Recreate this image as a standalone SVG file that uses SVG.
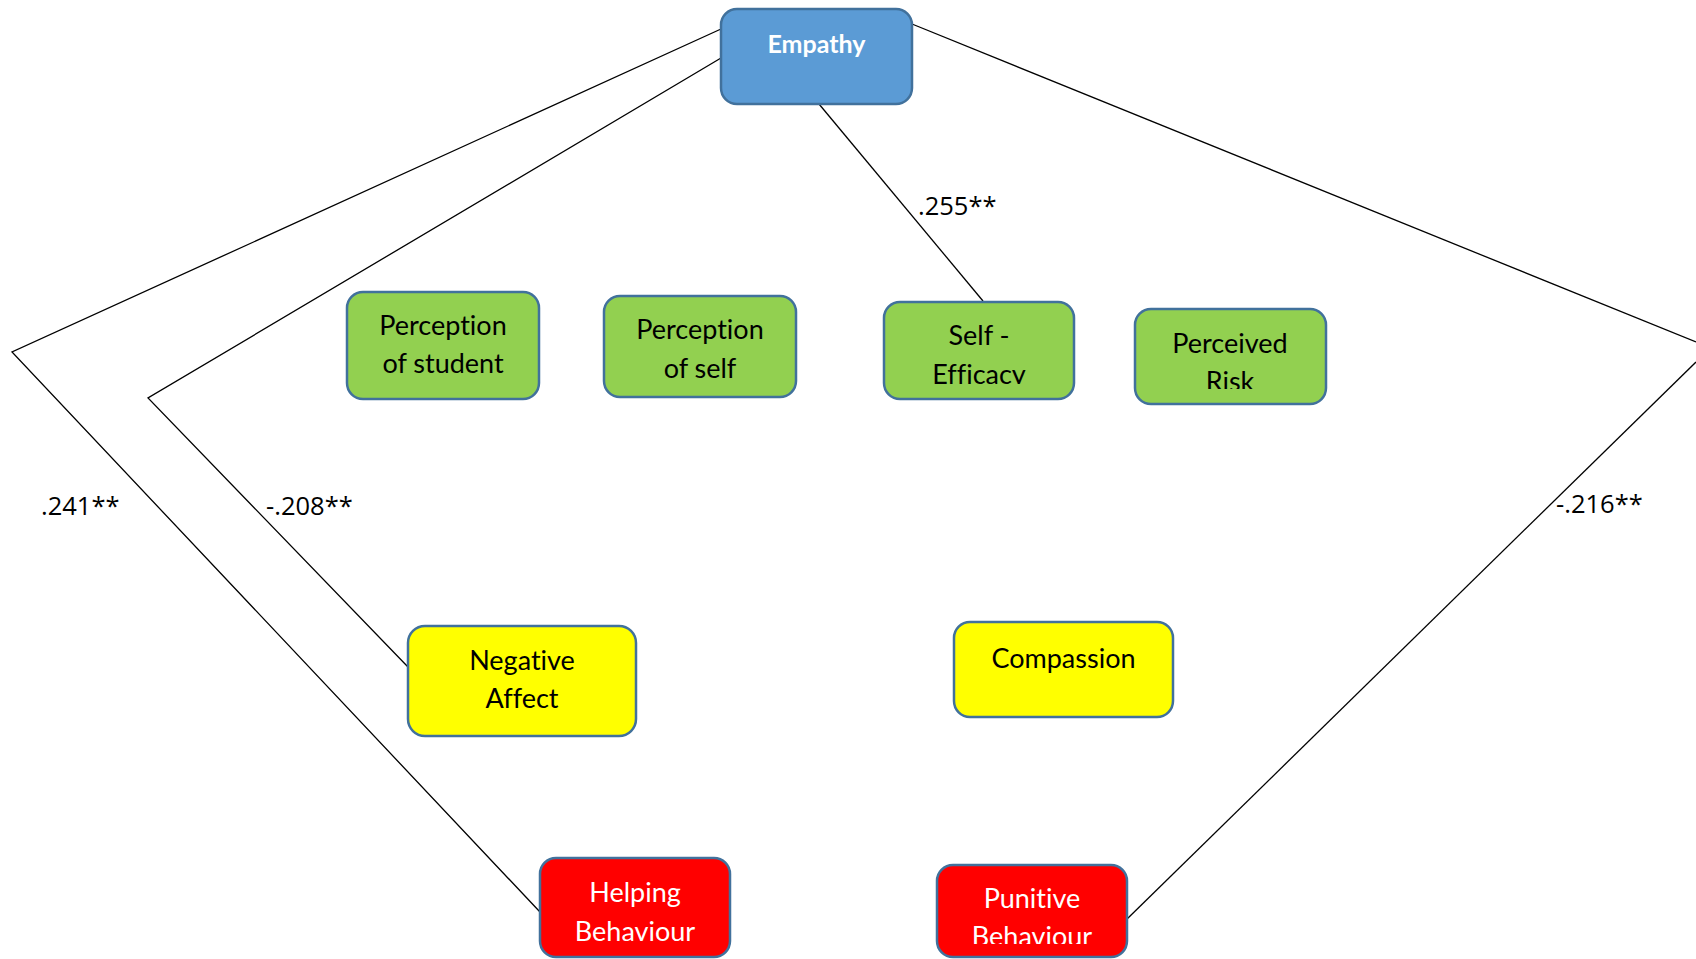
<svg xmlns="http://www.w3.org/2000/svg" width="1696" height="959" viewBox="0 0 1696 959">
  <style>
    .box { stroke: #41719C; stroke-width: 2.5; }
    .blue { fill: #5B9BD5; }
    .green { fill: #92D050; }
    .yellow { fill: #FFFF00; }
    .red { fill: #FF0000; }
    .t { font-family: Lato, "Liberation Sans", sans-serif; font-size: 27px; fill: #000; text-anchor: middle; font-variant-ligatures: none; }
    .w { fill: #FFFFFF; }
    .b { font-weight: bold; font-size: 25px; }
    .num { font-family: "Open Sans", "Liberation Sans", sans-serif; font-size: 25.5px; fill: #000; }
    .edge { stroke: #000; stroke-width: 1.3; fill: none; }
  </style>
  <defs>
    <clipPath id="clipSE"><rect x="884" y="302" width="190" height="82"/></clipPath>
    <clipPath id="clipPR"><rect x="1135" y="309" width="191" height="80"/></clipPath>
    <clipPath id="clipPB"><rect x="937" y="865" width="190" height="79"/></clipPath>
  </defs>
  <rect width="1696" height="959" fill="#FFFFFF"/>

  <g id="connectors">
    <polyline class="edge" points="721,29 12,352 540,912"/>
    <polyline class="edge" points="721,58 148,398 408,667"/>
    <line class="edge" x1="819" y1="104" x2="983" y2="301"/>
    <polyline class="edge" points="912,24 1696,342"/>
    <line class="edge" x1="1696" y1="362" x2="1125" y2="921"/>
    <text class="num" x="918" y="215">.255**</text>
    <text class="num" x="41" y="515">.241**</text>
    <text class="num" x="266" y="515">-.208**</text>
    <text class="num" x="1556" y="513">-.216**</text>
  </g>

  <g id="empathy">
    <rect class="box blue" x="721" y="9" width="191" height="95" rx="16"/>
    <text class="t w b" x="816.5" y="53">Empathy</text>
  </g>

  <g id="perception-student">
    <rect class="box green" x="347" y="292" width="192" height="107" rx="16"/>
    <text class="t" x="443" y="335">Perception</text>
    <text class="t" x="443" y="373">of student</text>
  </g>

  <g id="perception-self">
    <rect class="box green" x="604" y="296" width="192" height="101" rx="16"/>
    <text class="t" x="700" y="339">Perception</text>
    <text class="t" x="700" y="378">of self</text>
  </g>

  <g id="self-efficacy">
    <rect class="box green" x="884" y="302" width="190" height="97" rx="16"/>
    <g clip-path="url(#clipSE)">
      <text class="t" x="979" y="345">Self -</text>
      <text class="t" x="979" y="384">Efficacy</text>
    </g>
  </g>

  <g id="perceived-risk">
    <rect class="box green" x="1135" y="309" width="191" height="95" rx="16"/>
    <g clip-path="url(#clipPR)">
      <text class="t" x="1230" y="353">Perceived</text>
      <text class="t" x="1230" y="391">Risk</text>
    </g>
  </g>

  <g id="negative-affect">
    <rect class="box yellow" x="408" y="626" width="228" height="110" rx="17"/>
    <text class="t" x="522" y="670">Negative</text>
    <text class="t" x="522" y="708">Affect</text>
  </g>

  <g id="compassion">
    <rect class="box yellow" x="954" y="622" width="219" height="95" rx="16"/>
    <text class="t" x="1063.5" y="668">Compassion</text>
  </g>

  <g id="helping-behaviour">
    <rect class="box red" x="540" y="858" width="190" height="99" rx="16"/>
    <text class="t w" x="635" y="902">Helping</text>
    <text class="t w" x="635" y="941">Behaviour</text>
  </g>

  <g id="punitive-behaviour">
    <rect class="box red" x="937" y="865" width="190" height="92" rx="16"/>
    <g clip-path="url(#clipPB)">
      <text class="t w" x="1032" y="908">Punitive</text>
      <text class="t w" x="1032" y="946">Behaviour</text>
    </g>
  </g>
</svg>
